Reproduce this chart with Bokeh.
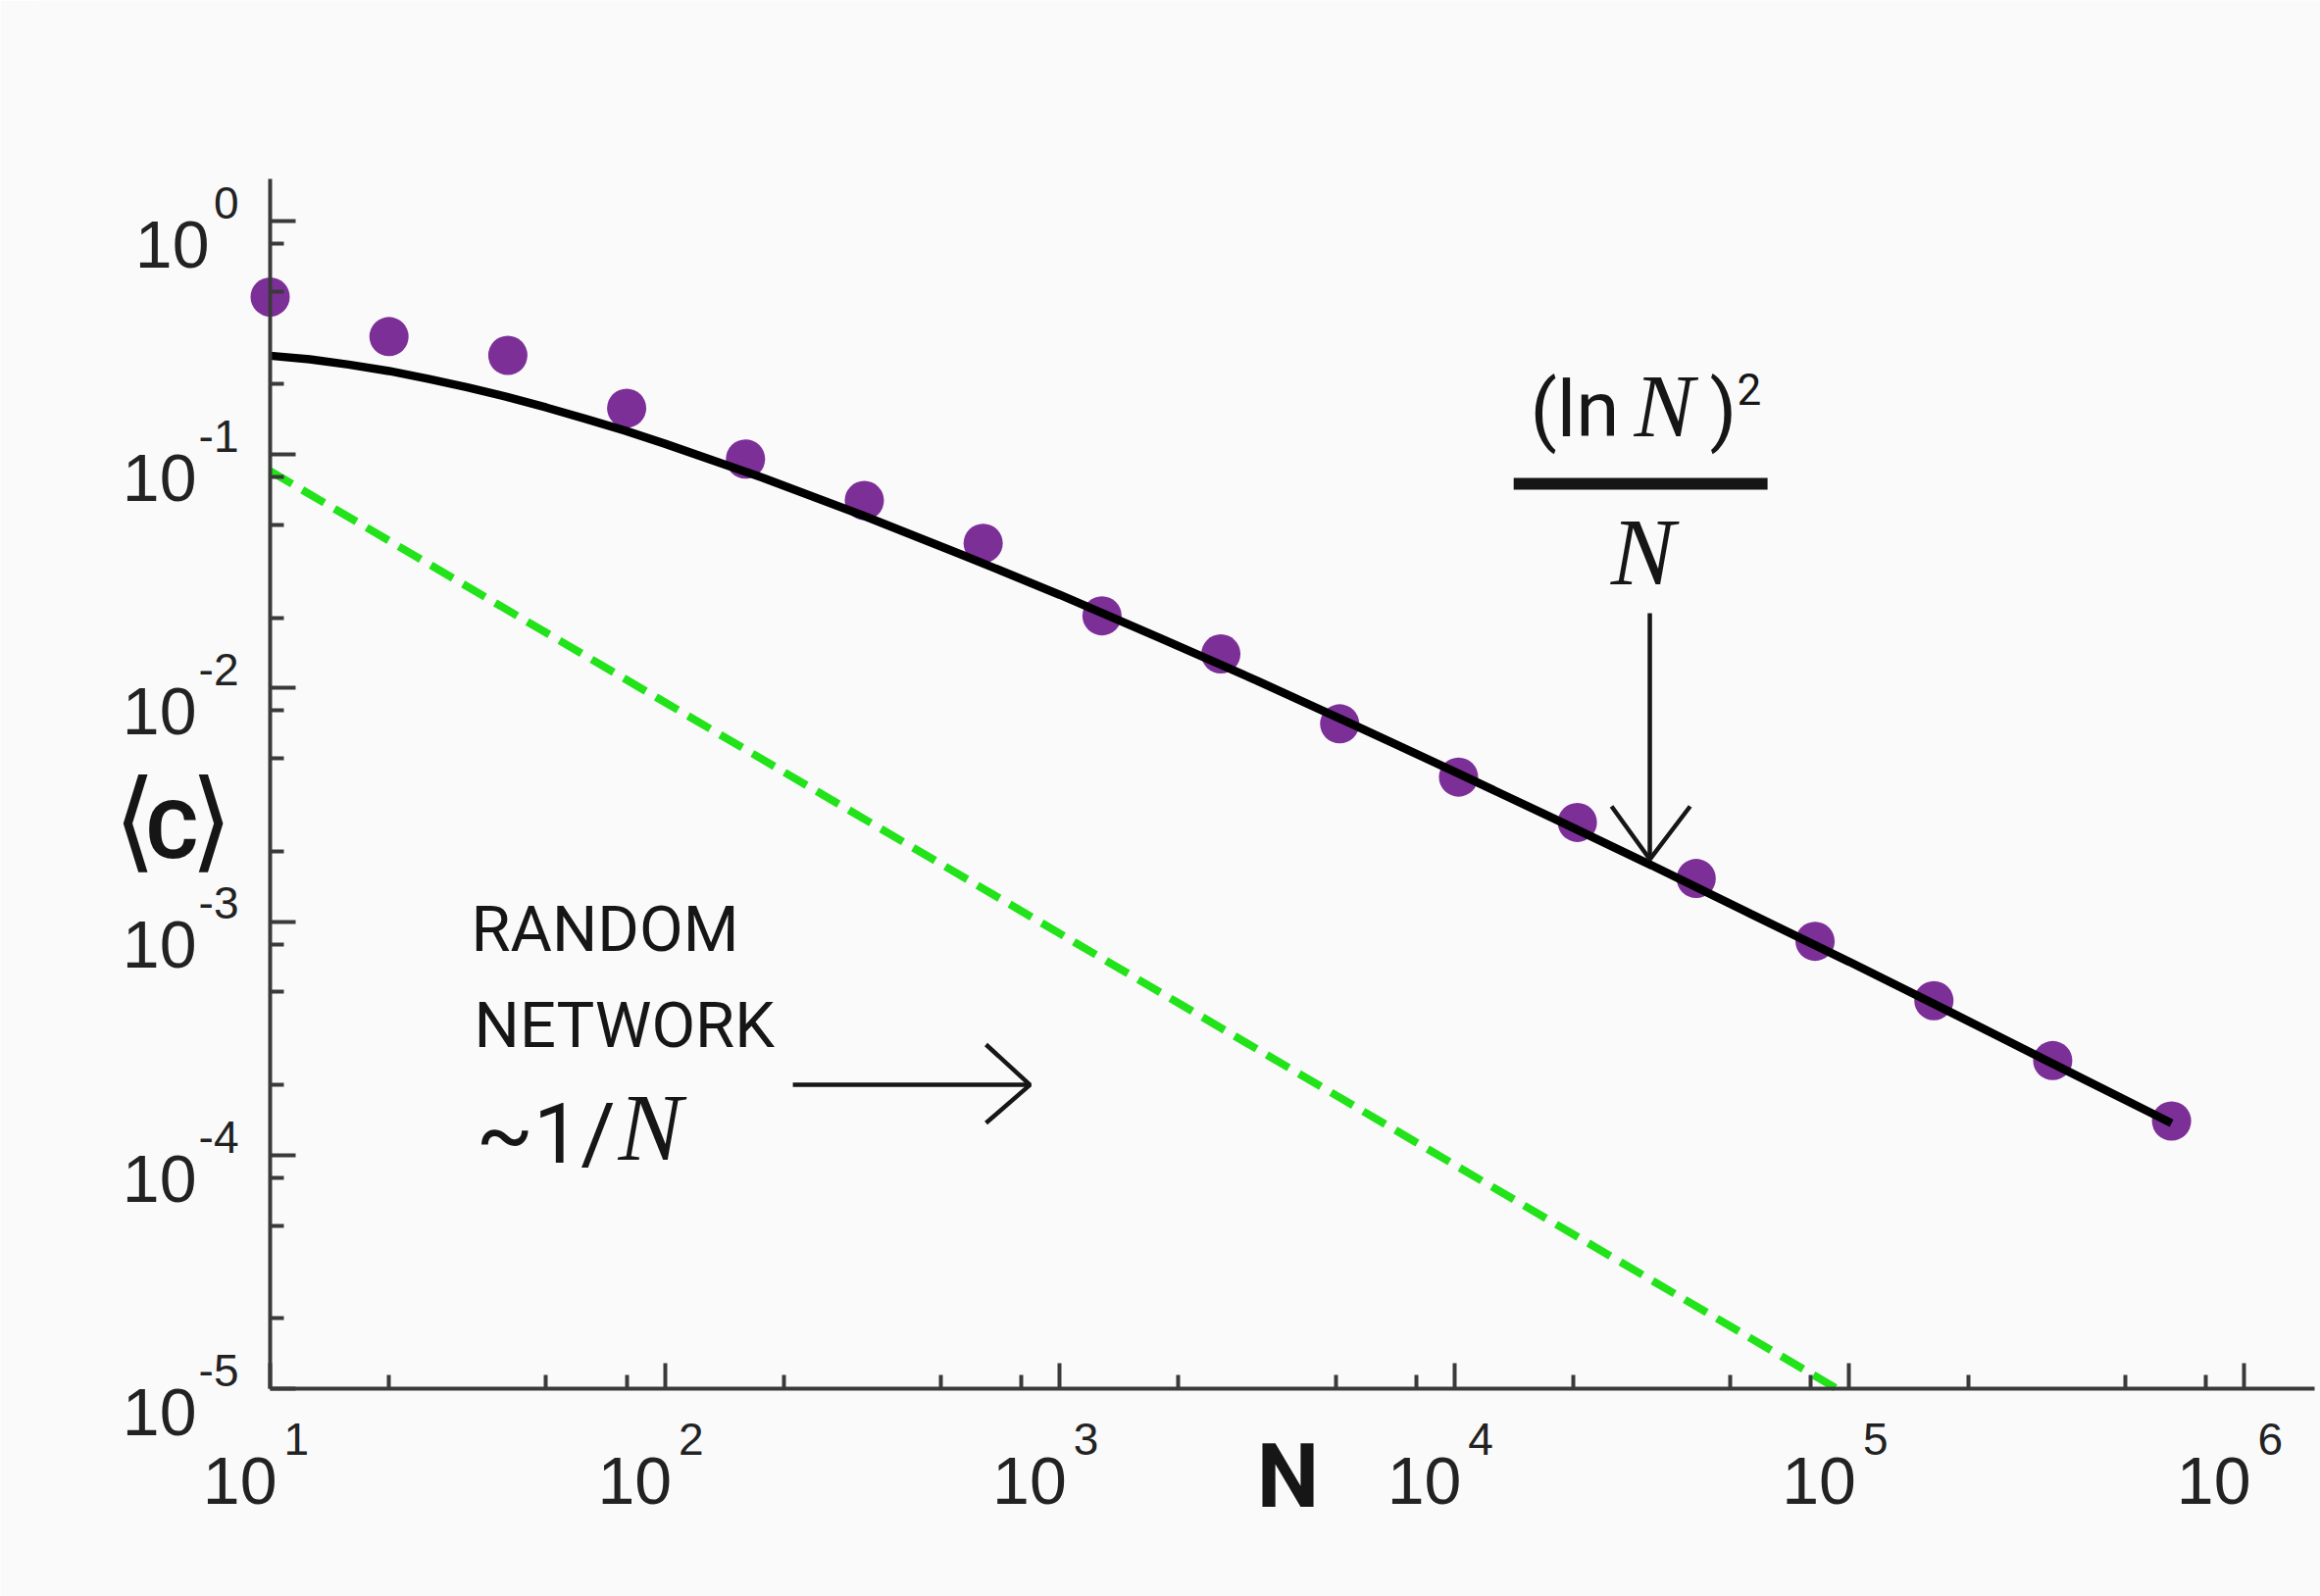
from bokeh.plotting import figure
from bokeh.models import FixedTicker, Range1d, Label, CustomJSTickFormatter
from bokeh.embed import file_html
from bokeh.resources import INLINE

# Average clustering coefficient <C> against network size N
n_nodes = [10, 20, 40, 80, 160, 320, 640, 1280, 2560, 5120, 10240,
           20480, 40960, 81920, 163840, 327680, 655360]
c_avg = [0.473, 0.32, 0.266, 0.158, 0.0957, 0.0636, 0.0417, 0.0204, 0.0140,
         0.00703, 0.00416, 0.00266, 0.00153, 0.000824, 0.000459, 0.000254, 0.00014]

# (ln N)^2 / N trend curve
fit_n = [10, 12.6, 15.8, 20, 25.1, 31.6, 39.8, 50.1, 63.1, 79.4, 100, 178, 316,
         562, 1000, 1778, 3162, 5623, 10000, 17783, 31623, 56234, 100000,
         177828, 316228, 562341, 655360]
fit_c = [0.265, 0.256, 0.243, 0.228, 0.211, 0.194, 0.1765, 0.159, 0.142, 0.1265,
         0.1113, 0.0793, 0.0550, 0.0374, 0.0251, 0.01649, 0.01076, 0.00690,
         0.00439, 0.00277, 0.00174, 0.00108, 0.000673, 0.000415, 0.000254,
         0.000156, 0.000137]

# random network ~1/N
random_n = [10, 93000]
random_c = [0.085, 1.0e-5]

# axes
x_tick_values = [10, 100, 1000, 10000, 100000, 1000000]
x_tick_exps = ["1", "2", "3", "4", "5", "6"]
y_tick_values = [1, 0.1, 0.01, 0.001, 0.0001, 0.00001]
y_tick_exps = ["0", "-1", "-2", "-3", "-4", "-5"]
minor_mults = [2, 5, 8]

X_AXIS_END = 10 ** 6.1788
Y_AXIS_END = 10 ** 0.18

PURPLE = "#7d2f98"
GREEN = "#22e31a"
AXIS = "#3a3a3a"
INK = "#161616"
TICK_INK = "#222222"

# the frame spans the whole page; the axes sit inside it at N=10 and <C>=1e-5
p = figure(width=2366, height=1628, x_axis_type="log", y_axis_type="log",
           x_range=Range1d(10 ** 0.41629, 10 ** 6.19374),
           y_range=Range1d(10 ** -5.72208, 10 ** 0.94459),
           output_backend="svg", toolbar_location=None,
           min_border_left=40, min_border_right=0,
           min_border_top=0, min_border_bottom=40,
           background_fill_color="#fafafa", border_fill_color="#fafafa")
p.outline_line_color = None
p.grid.visible = False

x_minor = [m * 10 ** k for k in range(1, 7) for m in minor_mults if m * 10 ** k < X_AXIS_END]
y_minor = [m * 10.0 ** k for k in range(-5, 0) for m in minor_mults]

blank = CustomJSTickFormatter(code="return ''")
for ax, ticks, minor in ((p.xaxis[0], x_tick_values, x_minor),
                         (p.yaxis[0], y_tick_values, y_minor)):
    ax.ticker = FixedTicker(ticks=ticks, minor_ticks=minor)
    ax.formatter = blank
    ax.major_label_text_font_size = "0px"
    ax.axis_line_color = AXIS
    ax.axis_line_width = 4
    ax.major_tick_line_color = AXIS
    ax.major_tick_line_width = 4
    ax.minor_tick_line_color = AXIS
    ax.minor_tick_line_width = 4
    ax.major_tick_in = 26
    ax.major_tick_out = 0
    ax.minor_tick_in = 14
    ax.minor_tick_out = 0

p.xaxis[0].bounds = (10, X_AXIS_END)
p.xaxis[0].fixed_location = 1e-5
p.yaxis[0].bounds = (1e-5, Y_AXIS_END)
p.yaxis[0].fixed_location = 10

# data
p.line(random_n, random_c, line_color=GREEN, line_width=8, line_dash="26 12")
p.scatter(n_nodes, c_avg, size=40, marker="circle", fill_color=PURPLE, line_color=None)
p.line(fit_n, fit_c, line_color="black", line_width=8.5)

BASELINE_SHIFT = 0.34  # label text sits this many ems below its alphabetic anchor


def label(x, y, text, dx=0, dy=0, font="Liberation Sans", size=68,
          style="normal", align="left", color=INK):
    # dx: pixels right, dy: pixels down to the text baseline
    p.add_layout(Label(x=x, y=y, text=text, x_offset=dx,
                       y_offset=BASELINE_SHIFT * size - dy,
                       text_font=font, text_font_size=f"{size}px",
                       text_font_style=style, text_align=align,
                       text_baseline="alphabetic", text_color=color))


# tick labels: 10 with raised exponent
for v, e in zip(y_tick_values, y_tick_exps):
    label(10, v, "10", dx=-62 if len(e) == 1 else -75, dy=47, align="right", color=TICK_INK)
    label(10, v, e, dx=-32, dy=-3, size=46, align="right", color=TICK_INK)
for v, e in zip(x_tick_values, x_tick_exps):
    label(v, 1e-5, "10", dx=7, dy=117, align="right", color=TICK_INK)
    label(v, 1e-5, e, dx=14, dy=67, size=46, color=TICK_INK)

# axis titles
label(3785, 1e-5, "N", dy=121, font="Roboto", size=90, style="bold", align="center")
C_AT = (10, 1.886e-3)
BRACKET_FONT = "'Noto Sans CJK JP', 'DejaVu Sans'"
label(*C_AT, "C", dx=-100, font="Roboto", size=82, style="bold", align="center")
label(*C_AT, "\u27e8", dx=-138, dy=-10, font=BRACKET_FONT, size=112, align="center")
label(*C_AT, "\u27e9", dx=-60, dy=-10, font=BRACKET_FONT, size=112, align="center")

# (ln N)^2 / N annotation
F_AT = (29500, 0.075)
label(*F_AT, "(ln", dx=-112, dy=-48, font="Roboto", size=80)
label(*F_AT, "N", dx=-6, dy=-48, font="Liberation Serif", size=92, style="italic")
label(*F_AT, ")", dx=71, dy=-48, font="Roboto", size=80)
label(*F_AT, "2", dx=99, dy=-82, font="Roboto", size=44)
label(*F_AT, "N", dx=3, dy=103, font="Liberation Serif", size=98, style="italic", align="center")
p.segment(x0=[14125], y0=[0.075], x1=[62100], y1=[0.075], line_color=INK, line_width=12)

# random network annotation
R_AT = (32.3, 7.45e-4)
label(*R_AT, "RANDOM", font="Roboto", size=65)
label(*R_AT, "NETWORK", dx=3, dy=98, font="Roboto", size=65)
label(*R_AT, "~1/", dx=5, dy=215, font="Roboto", size=86)
label(*R_AT, "N", dx=150, dy=213, font="Liberation Serif", size=98, style="italic")

# arrows
p.multi_line(xs=[[31250, 31250], [25000, 31250, 39540],
                 [210.9, 841], [650.6, 841, 650.6]],
             ys=[[0.02094, 0.001849], [0.003117, 0.001849, 0.003117],
                 [2.0e-4, 2.0e-4], [2.976e-4, 2.0e-4, 1.373e-4]],
             line_color=INK, line_width=4.5)

open("out.html", "w").write(file_html(p, INLINE))
